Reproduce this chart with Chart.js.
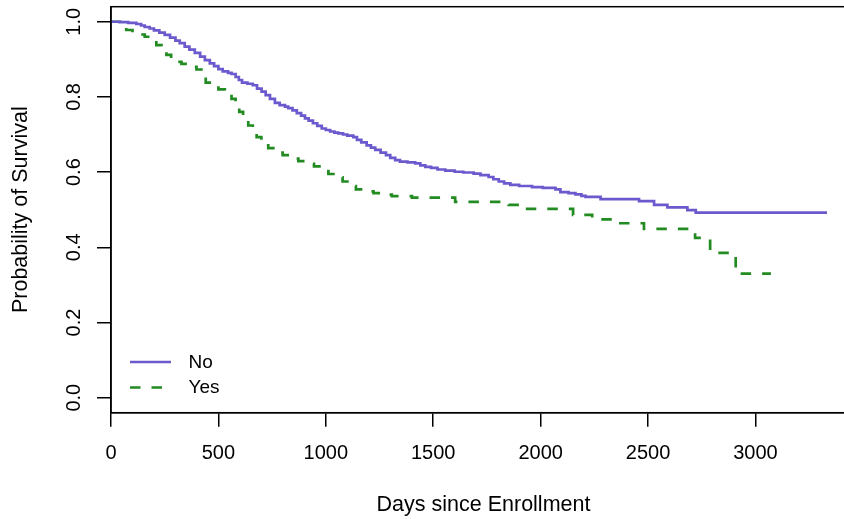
<!DOCTYPE html>
<html>
<head>
<meta charset="utf-8">
<script src="https://cdn.jsdelivr.net/npm/chart.js@4.4.0/dist/chart.umd.min.js"></script>
<style>
    html, body { margin: 0; padding: 0; background: #fff; overflow: hidden; }
</style>
</head>
<body>
<canvas id="myChart" width="856" height="519"></canvas>
<script>
// survival curve, group "No"
var noDays = [0, 40, 80, 118, 140, 157, 180, 200, 225, 250, 275, 300, 320, 343, 365, 390, 415, 437, 460, 480,
    500, 520, 545, 561, 580, 595, 610, 635, 660, 680, 701, 720, 740, 763, 785, 810, 825, 845, 865, 885,
    903, 920, 940, 960, 981, 1000, 1020, 1040, 1058, 1080, 1100, 1128, 1145, 1165, 1190, 1210, 1230, 1255, 1280, 1300,
    1323, 1345, 1380, 1416, 1440, 1463, 1490, 1520, 1556, 1600, 1640, 1688, 1720, 1758, 1780, 1805, 1830, 1859, 1900, 1960,
    2010, 2069, 2092, 2130, 2162, 2190, 2209, 2279, 2458, 2528, 2590, 2683, 2722, 3333];
var noSurv = [1.0, 0.999, 0.997, 0.994, 0.990, 0.986, 0.982, 0.977, 0.971, 0.965, 0.958, 0.950, 0.943, 0.934, 0.926, 0.917, 0.907, 0.898, 0.889, 0.882,
    0.874, 0.868, 0.864, 0.861, 0.853, 0.845, 0.838, 0.835, 0.831, 0.822, 0.814, 0.805, 0.795, 0.784, 0.778, 0.774, 0.770, 0.764, 0.757, 0.750,
    0.743, 0.737, 0.730, 0.723, 0.716, 0.712, 0.708, 0.705, 0.703, 0.700, 0.697, 0.693, 0.686, 0.679, 0.671, 0.665, 0.659, 0.652, 0.645, 0.638,
    0.632, 0.628, 0.626, 0.623, 0.618, 0.614, 0.611, 0.607, 0.604, 0.601, 0.599, 0.596, 0.592, 0.587, 0.581, 0.575, 0.570, 0.566, 0.563, 0.560,
    0.558, 0.554, 0.547, 0.544, 0.541, 0.537, 0.534, 0.528, 0.523, 0.513, 0.506, 0.499, 0.492, 0.492];

// survival curve, group "Yes"
var yesDays = [0, 50, 71, 100, 130, 157, 185, 211, 235, 258, 280, 300, 328, 360, 398, 441, 470, 500, 530, 561,
    580, 597, 615, 639, 660, 678, 700, 732, 765, 799, 835, 872, 910, 945, 980, 1012, 1045, 1078, 1110, 1140,
    1180, 1222, 1265, 1307, 1401, 1602, 1851, 1929, 2151, 2240, 2345, 2481, 2719, 2789, 2908, 3072];
var yesSurv = [1.0, 0.985, 0.978, 0.972, 0.966, 0.960, 0.950, 0.938, 0.925, 0.912, 0.900, 0.893, 0.888, 0.880, 0.873, 0.838, 0.830, 0.820, 0.808, 0.795,
    0.778, 0.760, 0.742, 0.724, 0.708, 0.693, 0.680, 0.664, 0.652, 0.645, 0.636, 0.629, 0.622, 0.615, 0.607, 0.595, 0.586, 0.575, 0.563, 0.554,
    0.549, 0.544, 0.540, 0.536, 0.532, 0.521, 0.513, 0.502, 0.486, 0.474, 0.464, 0.449, 0.425, 0.385, 0.330, 0.330];

var seriesNames = ['No', 'Yes'];
var xTicks = [0, 500, 1000, 1500, 2000, 2500, 3000];
var yTicks = [0, 0.2, 0.4, 0.6, 0.8, 1.0];

function toPoints(days, surv) {
    var pts = [];
    for (var i = 0; i < days.length; i++) {
        pts.push({x: days[i], y: surv[i]});
    }
    return pts;
}

var fontFam = "'Liberation Sans', Arial, Helvetica, sans-serif";

// box around the plot region (R style)
var boxPlugin = {
    id: 'plotBox',
    afterDraw: function (chart) {
        var a = chart.chartArea;
        var ctx = chart.ctx;
        ctx.save();
        ctx.strokeStyle = '#000';
        ctx.lineWidth = 1.5;
        ctx.strokeRect(a.left, a.top, a.right - a.left, a.bottom - a.top);
        ctx.restore();
    }
};

// legend in the lower left corner of the plot
var legendPlugin = {
    id: 'rLegend',
    afterDraw: function (chart) {
        var a = chart.chartArea;
        var ctx = chart.ctx;
        ctx.save();
        chart.data.datasets.forEach(function (ds, i) {
            var y = 362 + i * 25.5;
            ctx.strokeStyle = ds.borderColor;
            ctx.lineWidth = ds.borderWidth;
            ctx.setLineDash(ds.borderDash || []);
            ctx.beginPath();
            ctx.moveTo(a.left + 19, y);
            ctx.lineTo(a.left + 60, y);
            ctx.stroke();
            ctx.setLineDash([]);
            ctx.fillStyle = '#000';
            ctx.font = '19px ' + fontFam;
            ctx.textBaseline = 'middle';
            ctx.textAlign = 'left';
            ctx.fillText(ds.label, a.left + 77.5, y + 0.5);
        });
        ctx.restore();
    }
};

var ctx = document.getElementById('myChart').getContext('2d');
var config = {
    type: 'line',
    data: {
        datasets: [
            {
                label: seriesNames[0],
                data: toPoints(noDays, noSurv),
                borderColor: 'rgb(106, 90, 205)',
                borderWidth: 2.7,
                stepped: true,
                pointRadius: 0,
                fill: false
            },
            {
                label: seriesNames[1],
                data: toPoints(yesDays, yesSurv),
                borderColor: 'rgb(34, 139, 34)',
                borderWidth: 2.7,
                borderDash: [10.5, 11],
                stepped: true,
                pointRadius: 0,
                fill: false
            }
        ]
    },
    options: {
        responsive: false,
        animation: false,
        devicePixelRatio: 1,
        layout: { padding: { top: 6.7, left: 0, right: 0, bottom: 0 } },
        plugins: {
            legend: { display: false },
            tooltip: { enabled: false }
        },
        scales: {
            x: {
                type: 'linear',
                min: 0,
                max: 3468,
                afterFit: function (scale) {
                    scale.height = 106.3;
                    scale.paddingLeft = 0;
                    scale.paddingRight = 0;
                },
                afterBuildTicks: function (scale) {
                    scale.ticks = xTicks.map(function (v) { return {value: v}; });
                },
                grid: { drawOnChartArea: false, drawTicks: true, tickLength: 14, color: '#000', lineWidth: 1.5 },
                border: { display: true, color: '#000', width: 1.5 },
                ticks: {
                    color: '#000',
                    padding: 15,
                    maxRotation: 0,
                    autoSkip: false,
                    font: { size: 20, family: fontFam },
                    callback: function (v) { return String(v); }
                },
                title: {
                    display: true,
                    text: 'Days since Enrollment',
                    color: '#000',
                    font: { size: 21.5, family: fontFam },
                    padding: { top: 0, bottom: 1 }
                }
            },
            y: {
                type: 'linear',
                min: -0.04,
                max: 1.04,
                afterFit: function (scale) {
                    scale.width = 111;
                    scale.paddingTop = 0;
                    scale.paddingBottom = 0;
                },
                afterBuildTicks: function (scale) {
                    scale.ticks = yTicks.map(function (v) { return {value: v}; });
                },
                grid: { drawOnChartArea: false, drawTicks: true, tickLength: 14, color: '#000', lineWidth: 1.5 },
                border: { display: true, color: '#000', width: 1.5 },
                ticks: {
                    color: '#000',
                    padding: 9,
                    minRotation: 90,
                    maxRotation: 90,
                    crossAlign: 'center',
                    autoSkip: false,
                    font: { size: 20, family: fontFam },
                    callback: function (v) { return Number(v).toFixed(1); }
                },
                title: {
                    display: true,
                    text: 'Probability of Survival',
                    color: '#000',
                    font: { size: 21.5, family: fontFam },
                    padding: { top: 8, bottom: 0 }
                }
            }
        }
    },
    plugins: [boxPlugin, legendPlugin]
};
var chart = new Chart(ctx, config);
</script>
</body>
</html>
